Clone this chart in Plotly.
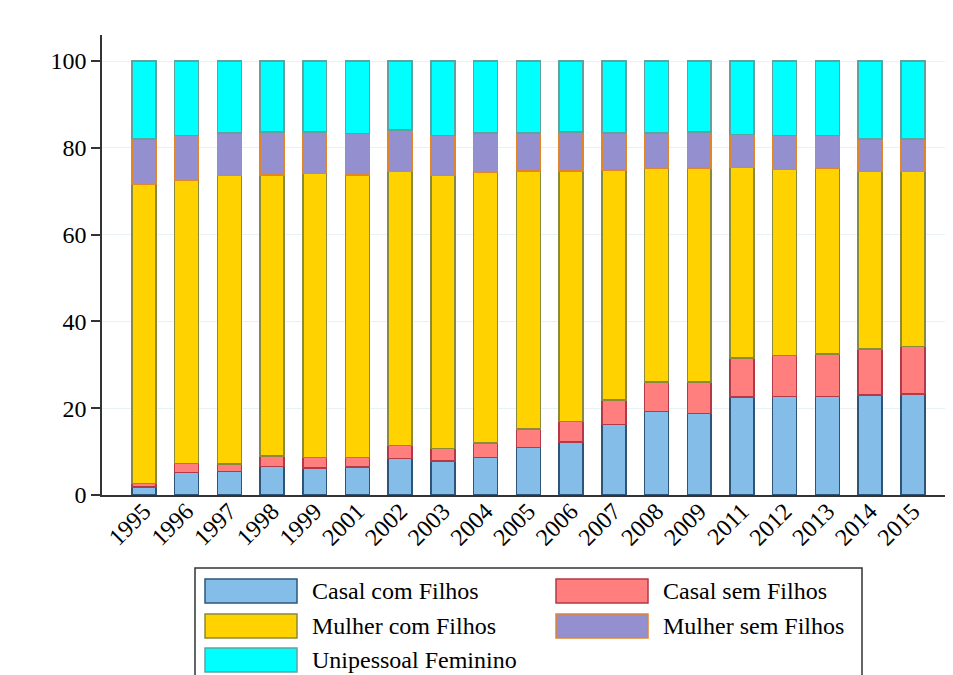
import plotly.graph_objects as go

years = ["1995", "1996", "1997", "1998", "1999", "2001", "2002", "2003", "2004", "2005",
         "2006", "2007", "2008", "2009", "2011", "2012", "2013", "2014", "2015"]

casal_com_filhos = [1.8, 5.2, 5.4, 6.6, 6.2, 6.4, 8.4, 7.8, 8.7, 10.9,
                    12.2, 16.3, 19.3, 18.8, 22.6, 22.7, 22.7, 23.0, 23.3]
casal_sem_filhos = [0.9, 2.1, 1.8, 2.4, 2.4, 2.2, 3.0, 2.9, 3.3, 4.3,
                    4.7, 5.6, 6.7, 7.2, 9.0, 9.5, 9.8, 10.7, 10.9]
mulher_com_filhos = [68.8, 65.2, 66.4, 64.7, 65.5, 65.1, 63.2, 62.9, 62.3, 59.5,
                     57.8, 53.0, 49.2, 49.4, 43.9, 42.8, 42.7, 40.9, 40.4]
mulher_sem_filhos = [10.5, 10.3, 9.8, 9.9, 9.5, 9.6, 9.5, 9.2, 9.1, 8.7,
                     9.0, 8.5, 8.2, 8.2, 7.6, 7.8, 7.6, 7.4, 7.4]
unipessoal_feminino = [18.0, 17.2, 16.6, 16.4, 16.4, 16.7, 15.9, 17.2, 16.6, 16.6,
                       16.3, 16.6, 16.6, 16.4, 16.9, 17.2, 17.2, 18.0, 18.0]

names = ["Casal com Filhos", "Casal sem Filhos", "Mulher com Filhos",
         "Mulher sem Filhos", "Unipessoal Feminino"]
series = [casal_com_filhos, casal_sem_filhos, mulher_com_filhos,
          mulher_sem_filhos, unipessoal_feminino]
fills = ["#84BDE8", "#FF7F7F", "#FFD200", "#948FCF", "#00FFFF"]
edges = ["#2E5577", "#B23A48", "#8A8A3A", "#E0852C", "#5FA3A0"]

FONT = "Liberation Serif"
W, H = 953, 675
OFF = 8  # page offset of the figure
L, R, T, B = 102 - OFF, 950 - OFF, 35 - OFF, 495 - OFF

fig = go.Figure()
for nm, vals, fc, ec in zip(names, series, fills, edges):
    fig.add_trace(go.Bar(
        x=years, y=vals, name=nm,
        marker=dict(color=fc, line=dict(color=ec, width=1.5)),
        showlegend=False,
    ))

fig.update_layout(
    barmode="stack",
    bargap=0.44,
    width=W, height=H,
    margin=dict(l=L, r=W - R, t=T, b=H - B, pad=0),
    paper_bgcolor="white",
    plot_bgcolor="white",
    font=dict(family=FONT, size=24, color="black"),
)
fig.update_xaxes(
    type="category",
    range=[-0.98, 18.87],
    tickangle=-45,
    ticklabelstandoff=-9,
    showline=True, linecolor="#333333", linewidth=1.5,
    showgrid=False, ticks="",
    tickfont=dict(family=FONT, size=24, color="black"),
)
fig.update_yaxes(
    range=[0, 106],
    tickvals=[0, 20, 40, 60, 80, 100],
    showline=True, linecolor="#333333", linewidth=1.5,
    ticks="outside", ticklen=9, tickwidth=1.5, tickcolor="#333333",
    showgrid=True, gridcolor="#E8F1F3", gridwidth=1,
    zeroline=False,
    tickfont=dict(family=FONT, size=24, color="black"),
)

# custom legend (paper coordinates derived from page-pixel layout)
def px(xp):
    return (xp - OFF - L) / (R - L)

def py(yp):
    return (B - (yp - OFF)) / (B - T)

shapes = [dict(type="rect", xref="paper", yref="paper",
               x0=px(195), x1=px(862), y0=py(700), y1=py(568),
               line=dict(color="#333333", width=1.5), fillcolor="white", layer="above")]
annotations = []
slots = [(205, 591), (556, 591), (205, 626), (556, 626), (205, 660)]
for (sx, sy), nm, fc, ec in zip(slots, names, fills, edges):
    shapes.append(dict(type="rect", xref="paper", yref="paper",
                       x0=px(sx), x1=px(sx + 92), y0=py(sy + 12), y1=py(sy - 12),
                       line=dict(color=ec, width=1.5), fillcolor=fc, layer="above"))
    annotations.append(dict(xref="paper", yref="paper", x=px(sx + 105), y=py(sy),
                            text=nm, showarrow=False, xanchor="left", yanchor="middle",
                            font=dict(family=FONT, size=24, color="black")))
fig.update_layout(shapes=shapes, annotations=annotations)

fig.write_html("out.html")
